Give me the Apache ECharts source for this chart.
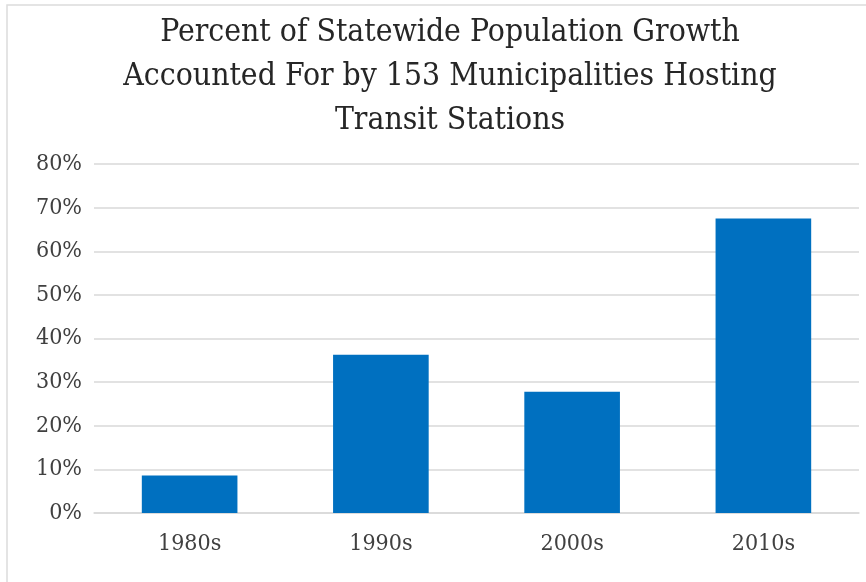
<!DOCTYPE html>
<html>
<head>
<meta charset="utf-8">
<script src="https://cdn.jsdelivr.net/npm/echarts@6/dist/echarts.min.js"></script>
<style>
  html, body {margin: 0; padding: 0; background: #fff;}
  #chart {width: 866px; height: 582px;}
</style>
</head>
<body>
<div id="chart"></div>
<script>
const decades = ['1980s', '1990s', '2000s', '2010s']
const growthShare = [8.6, 36.3, 27.8, 67.5]
const titleLines = [
  'Percent of Statewide Population Growth',
  'Accounted For by 153 Municipalities Hosting',
  'Transit Stations'
]

const serif = '"DejaVu Serif Condensed", "Liberation Serif", serif'

const chart = echarts.init(document.getElementById('chart'), null, {renderer: 'canvas'})
chart.setOption({
  backgroundColor: '#fff',
  animation: false,
  title: {
    text: titleLines.join('\n'),
    left: 445,
    textAlign: 'center',
    top: 6,
    textStyle: {
      fontFamily: serif,
      fontWeight: 'normal',
      fontSize: 31.6,
      lineHeight: 44,
      color: '#262626'
    }
  },
  graphic: [{
    type: 'rect',
    shape: {x: 7, y: 5, width: 900, height: 600},
    style: {fill: 'none', stroke: '#dcdcdc', lineWidth: 1.5},
    silent: true
  }],
  grid: {left: 94, right: 7, top: 164, bottom: 69},
  xAxis: {
    type: 'category',
    data: decades,
    axisLine: {lineStyle: {color: '#d9d9d9', width: 1.5}},
    axisTick: {show: false},
    axisLabel: {
      fontFamily: serif,
      fontSize: 23,
      color: '#404040',
      margin: 20
    }
  },
  yAxis: {
    type: 'value',
    min: 0,
    max: 80,
    interval: 10,
    axisLine: {show: false},
    axisTick: {show: false},
    splitLine: {lineStyle: {color: '#d9d9d9', width: 1.5}},
    axisLabel: {
      formatter: '{value}%',
      fontFamily: serif,
      fontSize: 23,
      color: '#404040',
      margin: 12
    }
  },
  series: [{
    type: 'bar',
    data: growthShare,
    barWidth: '50%',
    itemStyle: {color: '#0070c0'}
  }]
})
</script>
</body>
</html>
